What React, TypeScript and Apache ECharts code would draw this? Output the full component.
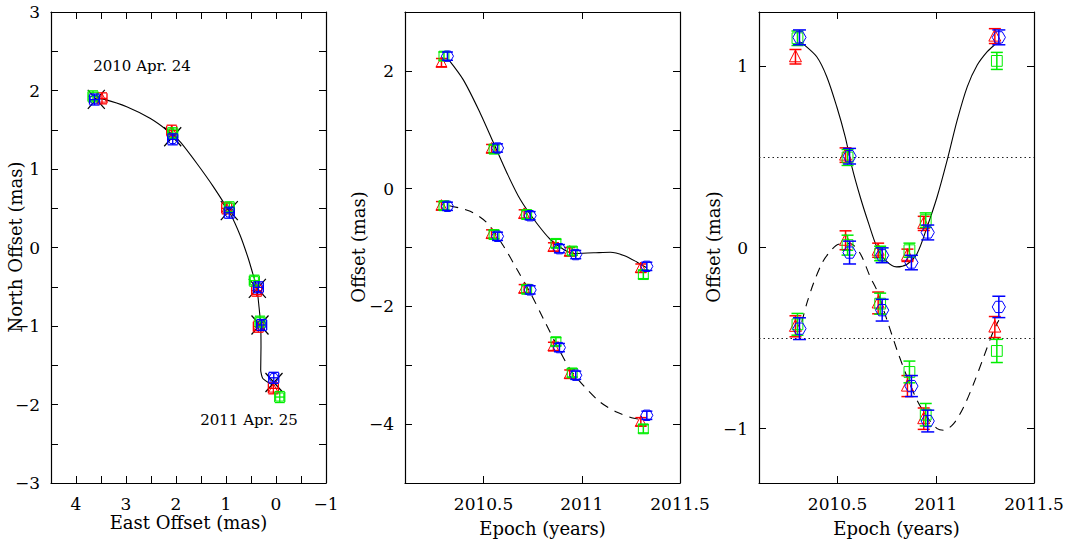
import React, { useEffect, useRef } from 'react';
import * as echarts from 'echarts';

// ---------- data ----------
const EPOCHS = [2010.306, 2010.561, 2010.727, 2010.876, 2010.959, 2011.321];

// Panel 1: sky positions (East, North offsets in mas)
const P1_MODEL_EAST = [3.594, 2.066, 0.934, 0.373, 0.32, 0.04];
const P1_MODEL_NORTH = [1.888, 1.411, 0.469, -0.52, -0.987, -1.72];
const P1_RED_EAST = [3.48, 2.086, 0.986, 0.387, 0.353, 0.053];
const P1_RED_NORTH = [1.9, 1.488, 0.499, -0.55, -1.009, -1.794];
const P1_GREEN_EAST = [3.66, 2.066, 0.934, 0.433, 0.32, -0.075];
const P1_GREEN_NORTH = [1.925, 1.455, 0.512, -0.423, -0.945, -1.905];
const P1_BLUE_EAST = [3.63, 2.066, 0.934, 0.353, 0.287, 0.045];
const P1_BLUE_NORTH = [1.885, 1.378, 0.443, -0.507, -0.987, -1.66];
const P1_ERR_EAST = [0.1, 0.1, 0.1, 0.1, 0.1, 0.1];
const P1_ERR_NORTH = [0.07, 0.07, 0.07, 0.07, 0.07, 0.07];
const P1_CURVE_EAST = [3.594, 3.45, 2.986, 2.52, 2.186, 1.92, 1.586, 1.254, 0.92, 0.72, 0.554, 0.466, 0.386, 0.34, 0.306, 0.3, 0.306, 0.266, 0.154, 0.03];
const P1_CURVE_NORTH = [1.9, 1.89, 1.794, 1.646, 1.497, 1.348, 1.073, 0.775, 0.436, 0.159, -0.14, -0.329, -0.5, -0.754, -0.987, -1.264, -1.561, -1.666, -1.72, -1.76];
const P1_X_TICKS_LABELLED = [4, 3, 2, 1, 0, -1];

// Panel 2: offsets vs epoch
const P2_SOLID_RED = [2.14, 0.68, -0.43, -0.99, -1.07, -1.35];
const P2_SOLID_GREEN = [2.25, 0.67, -0.44, -0.93, -1.06, -1.46];
const P2_SOLID_BLUE = [2.25, 0.69, -0.46, -1.02, -1.12, -1.32];
const P2_DASH_RED = [-0.29, -0.77, -1.7, -2.68, -3.15, -3.96];
const P2_DASH_GREEN = [-0.29, -0.78, -1.71, -2.6, -3.13, -4.08];
const P2_DASH_BLUE = [-0.3, -0.81, -1.72, -2.7, -3.17, -3.85];
const P2_ERR = [0.07, 0.07, 0.07, 0.07, 0.07, 0.07];
const P2_SOLID_CURVE_T = [2010.326, 2010.397, 2010.483, 2010.551, 2010.619, 2010.687, 2010.763, 2010.84, 2010.908, 2010.959, 2011.061, 2011.146, 2011.214, 2011.282, 2011.33];
const P2_SOLID_CURVE_V = [2.175, 1.847, 1.282, 0.775, 0.266, -0.186, -0.554, -0.864, -1.034, -1.102, -1.09, -1.08, -1.136, -1.249, -1.344];
const P2_DASH_CURVE_T = [2010.326, 2010.432, 2010.517, 2010.602, 2010.67, 2010.738, 2010.806, 2010.874, 2010.941, 2011.01, 2011.095, 2011.18, 2011.265, 2011.31];
const P2_DASH_CURVE_V = [-0.29, -0.385, -0.58, -0.98, -1.37, -1.77, -2.22, -2.67, -3.07, -3.35, -3.63, -3.8, -3.9, -3.92];

// Panel 3: residual offsets vs epoch
const P3_SOLID_RED = [1.053, 0.51, -0.015, -0.043, 0.133, 1.167];
const P3_SOLID_GREEN = [1.155, 0.497, -0.033, -0.015, 0.151, 1.03];
const P3_SOLID_BLUE = [1.16, 0.504, -0.043, -0.083, 0.083, 1.16];
const P3_SOLID_ERR_RED = [0.04, 0.04, 0.039, 0.034, 0.039, 0.041];
const P3_SOLID_ERR_GREEN = [0.04, 0.044, 0.04, 0.039, 0.04, 0.047];
const P3_SOLID_ERR_BLUE = [0.041, 0.043, 0.041, 0.04, 0.041, 0.041];
const P3_DASH_RED = [-0.435, 0.04, -0.306, -0.765, -0.945, -0.439];
const P3_DASH_GREEN = [-0.424, 0.013, -0.31, -0.687, -0.923, -0.571];
const P3_DASH_BLUE = [-0.448, -0.028, -0.346, -0.765, -0.958, -0.328];
const P3_DASH_ERR_RED = [0.058, 0.052, 0.06, 0.058, 0.059, 0.058];
const P3_DASH_ERR_GREEN = [0.06, 0.055, 0.058, 0.06, 0.062, 0.064];
const P3_DASH_ERR_BLUE = [0.06, 0.063, 0.06, 0.058, 0.06, 0.059];
const P3_SOLID_CURVE_T = [2010.31, 2010.326, 2010.394, 2010.445, 2010.496, 2010.539, 2010.573, 2010.615, 2010.658, 2010.7, 2010.743, 2010.8, 2010.854, 2010.905, 2010.956, 2011.007, 2011.058, 2011.109, 2011.16, 2011.211, 2011.262, 2011.299];
const P3_SOLID_CURVE_V = [1.135, 1.123, 1.053, 0.943, 0.777, 0.611, 0.445, 0.28, 0.133, 0.003, -0.07, -0.107, -0.092, -0.033, 0.114, 0.28, 0.482, 0.703, 0.887, 1.007, 1.081, 1.118];
const P3_DASH_CURVE_T = [2010.318, 2010.343, 2010.377, 2010.42, 2010.454, 2010.505, 2010.564, 2010.615, 2010.666, 2010.7, 2010.752, 2010.803, 2010.854, 2010.905, 2010.956, 2011.007, 2011.04, 2011.091, 2011.142, 2011.193, 2011.244, 2011.295, 2011.321];
const P3_DASH_CURVE_V = [-0.411, -0.31, -0.199, -0.088, -0.033, 0.018, 0.022, -0.033, -0.162, -0.236, -0.402, -0.567, -0.715, -0.844, -0.936, -1.0, -1.009, -0.972, -0.88, -0.751, -0.604, -0.457, -0.402];
const P3_REFERENCE_LEVELS = [0.5, -0.5];

const EPOCH_TICKS = [2010.5, 2011, 2011.5];
const P3_Y_TICKS = [-1, 0, 1];

const ANNOTATIONS = [
  { text: '2010 Apr. 24', x: 142, y: 66 },
  { text: '2011 Apr. 25', x: 249, y: 420 },
];

// ---------- styling ----------
const FONT = 'DejaVu Serif';
const RED = '#ff0000';
const GREEN = '#00ee00';
const BLUE = '#0000ff';
const GRIDS = [
  { left: 51, top: 12, width: 275, height: 471 },
  { left: 405, top: 12, width: 275, height: 471 },
  { left: 759, top: 12, width: 275, height: 471 },
];

const fmtNum = (v: number) => (v < 0 ? '\u2212' + String(Math.abs(v)) : String(v));

function symbolShape(shape: string, cx: number, cy: number, s: number, color: string) {
  const style = { fill: 'none', stroke: color, lineWidth: 1 };
  if (shape === 'square') {
    return { type: 'rect', shape: { x: cx - s * 0.45, y: cy - s * 0.45, width: s * 0.9, height: s * 0.9 }, style };
  }
  if (shape === 'triangle') {
    return {
      type: 'polygon',
      shape: { points: [[cx, cy - s * 0.55], [cx - s * 0.5, cy + s * 0.42], [cx + s * 0.5, cy + s * 0.42]] },
      style,
    };
  }
  return {
    type: 'polygon',
    shape: {
      points: [
        [cx - s * 0.55, cy], [cx - s * 0.28, cy - s * 0.47], [cx + s * 0.28, cy - s * 0.47],
        [cx + s * 0.55, cy], [cx + s * 0.28, cy + s * 0.47], [cx - s * 0.28, cy + s * 0.47],
      ],
    },
    style,
  };
}

function epochSeries(panel: number, values: number[], errs: number[], color: string, shape: string, dodge: number, size: number, cap: number) {
  return {
    type: 'custom',
    xAxisIndex: panel,
    yAxisIndex: panel,
    z: 5,
    silent: true,
    encode: { x: 0, y: 1 },
    data: EPOCHS.map((t, i) => [t, values[i], errs[i]]),
    renderItem: (_p: any, api: any) => {
      const t = api.value(0), v = api.value(1), e = api.value(2);
      const c = api.coord([t, v]);
      const hi = api.coord([t, v + e]);
      const lo = api.coord([t, v - e]);
      const x = c[0] + dodge;
      const ls = { stroke: color, lineWidth: 1.5 };
      return {
        type: 'group',
        children: [
          { type: 'line', shape: { x1: x, y1: hi[1], x2: x, y2: lo[1] }, style: ls },
          { type: 'line', shape: { x1: x - cap, y1: hi[1], x2: x + cap, y2: hi[1] }, style: ls },
          { type: 'line', shape: { x1: x - cap, y1: lo[1], x2: x + cap, y2: lo[1] }, style: ls },
          symbolShape(shape, x, c[1], size, color),
        ],
      };
    },
  };
}

function skySeries(east: number[], north: number[], color: string, shape: string) {
  return {
    type: 'custom',
    xAxisIndex: 0,
    yAxisIndex: 0,
    z: 5,
    silent: true,
    encode: { x: 0, y: 1 },
    data: east.map((e, i) => [e, north[i], P1_ERR_EAST[i], P1_ERR_NORTH[i]]),
    renderItem: (_p: any, api: any) => {
      const e = api.value(0), n = api.value(1), ee = api.value(2), en = api.value(3);
      const c = api.coord([e, n]);
      const l = api.coord([e + ee, n]);
      const r = api.coord([e - ee, n]);
      const hi = api.coord([e, n + en]);
      const lo = api.coord([e, n - en]);
      const cap = 5;
      const ls = { stroke: color, lineWidth: 1.3 };
      return {
        type: 'group',
        children: [
          { type: 'line', shape: { x1: c[0], y1: hi[1], x2: c[0], y2: lo[1] }, style: ls },
          { type: 'line', shape: { x1: c[0] - cap, y1: hi[1], x2: c[0] + cap, y2: hi[1] }, style: ls },
          { type: 'line', shape: { x1: c[0] - cap, y1: lo[1], x2: c[0] + cap, y2: lo[1] }, style: ls },
          { type: 'line', shape: { x1: l[0], y1: c[1], x2: r[0], y2: c[1] }, style: ls },
          { type: 'line', shape: { x1: l[0], y1: c[1] - cap, x2: l[0], y2: c[1] + cap }, style: ls },
          { type: 'line', shape: { x1: r[0], y1: c[1] - cap, x2: r[0], y2: c[1] + cap }, style: ls },
          symbolShape(shape, c[0], c[1], 9, color),
        ],
      };
    },
  };
}

function modelCrossSeries() {
  return {
    type: 'custom',
    xAxisIndex: 0,
    yAxisIndex: 0,
    z: 4,
    silent: true,
    encode: { x: 0, y: 1 },
    data: P1_MODEL_EAST.map((e, i) => [e, P1_MODEL_NORTH[i]]),
    renderItem: (_p: any, api: any) => {
      const c = api.coord([api.value(0), api.value(1)]);
      const hx = 8.5, hy = 9.5;
      const ls = { stroke: '#000', lineWidth: 1.2 };
      return {
        type: 'group',
        children: [
          { type: 'line', shape: { x1: c[0] - hx, y1: c[1] - hy, x2: c[0] + hx, y2: c[1] + hy }, style: ls },
          { type: 'line', shape: { x1: c[0] + hx, y1: c[1] - hy, x2: c[0] - hx, y2: c[1] + hy }, style: ls },
        ],
      };
    },
  };
}

function curve(panel: number, xs: number[], ys: number[], dashed: boolean, extra: any = {}) {
  return {
    type: 'line',
    xAxisIndex: panel,
    yAxisIndex: panel,
    z: 3,
    silent: true,
    symbol: 'none',
    smooth: 0.3,
    data: xs.map((x, i) => [x, ys[i]]),
    lineStyle: { color: '#000', width: 1.1, type: dashed ? [9, 7] : 'solid' },
    ...extra,
  };
}

const axisLine = { show: true, onZero: false, lineStyle: { color: '#000', width: 1.2 } };
const tickBase = { show: true, inside: true, length: 7, lineStyle: { color: '#000', width: 1 } };
const labelBase = { color: '#000', fontFamily: FONT, fontSize: 17 };

function makeX(panel: number, mirror: boolean) {
  const common: any = {
    type: 'value',
    gridIndex: panel,
    position: mirror ? 'top' : 'bottom',
    axisLine,
    splitLine: { show: false },
  };
  if (panel === 0) {
    return {
      ...common, min: -1, max: 4.5, inverse: true, interval: 0.5,
      axisTick: tickBase,
      axisLabel: mirror ? { show: false } : {
        ...labelBase, margin: 12,
        formatter: (v: number) => (P1_X_TICKS_LABELLED.indexOf(v) >= 0 ? fmtNum(v) : ''),
      },
    };
  }
  return {
    ...common, min: 2010.1, max: 2011.5,
    axisTick: { ...tickBase, customValues: EPOCH_TICKS },
    axisLabel: mirror ? { show: false } : { ...labelBase, margin: 12, customValues: EPOCH_TICKS, formatter: (v: number) => String(v) },
  };
}

function makeY(panel: number, mirror: boolean) {
  const common: any = {
    type: 'value',
    gridIndex: panel,
    position: mirror ? 'right' : 'left',
    axisLine,
    splitLine: { show: false },
  };
  if (panel === 0) {
    return {
      ...common, min: -3, max: 3, interval: 0.5,
      axisTick: tickBase,
      axisLabel: mirror ? { show: false } : { ...labelBase, margin: 11, formatter: (v: number) => (Number.isInteger(v) ? fmtNum(v) : '') },
    };
  }
  if (panel === 1) {
    return {
      ...common, min: -5, max: 3, interval: 1,
      axisTick: tickBase,
      axisLabel: mirror ? { show: false } : { ...labelBase, margin: 11, formatter: (v: number) => (Math.abs(v) % 2 === 0 ? fmtNum(v) : '') },
    };
  }
  return {
    ...common, min: -1.3, max: 1.3,
    axisTick: { ...tickBase, customValues: P3_Y_TICKS },
    axisLabel: mirror ? { show: false } : { ...labelBase, margin: 11, customValues: P3_Y_TICKS, formatter: (v: number) => fmtNum(v) },
  };
}

function titleText(text: string, x: number, y: number, vertical: boolean) {
  return {
    type: 'text',
    x, y,
    rotation: vertical ? Math.PI / 2 : 0,
    silent: true,
    style: { text, fill: '#000', font: `18px "${FONT}"`, textAlign: 'center', textVerticalAlign: 'middle' },
  };
}

export default function App() {
  const ref = useRef<HTMLDivElement>(null);
  useEffect(() => {
    document.body.style.margin = '0';
    if (!ref.current) return;
    const chart = echarts.init(ref.current, null, { renderer: 'svg' });
    const option: any = {
      animation: false,
      backgroundColor: '#fff',
      grid: GRIDS,
      xAxis: [makeX(0, false), makeX(1, false), makeX(2, false), makeX(0, true), makeX(1, true), makeX(2, true)],
      yAxis: [makeY(0, false), makeY(1, false), makeY(2, false), makeY(0, true), makeY(1, true), makeY(2, true)],
      series: [
        // panel 1
        curve(0, P1_CURVE_EAST, P1_CURVE_NORTH, false, { smooth: 0.2 }),
        modelCrossSeries(),
        skySeries(P1_RED_EAST, P1_RED_NORTH, RED, 'triangle'),
        skySeries(P1_GREEN_EAST, P1_GREEN_NORTH, GREEN, 'square'),
        skySeries(P1_BLUE_EAST, P1_BLUE_NORTH, BLUE, 'hexagon'),
        // panel 2
        curve(1, P2_SOLID_CURVE_T, P2_SOLID_CURVE_V, false),
        curve(1, P2_DASH_CURVE_T, P2_DASH_CURVE_V, true),
        epochSeries(1, P2_SOLID_RED, P2_ERR, RED, 'triangle', -4, 11, 5.5),
        epochSeries(1, P2_DASH_RED, P2_ERR, RED, 'triangle', -4, 11, 5.5),
        epochSeries(1, P2_SOLID_GREEN, P2_ERR, GREEN, 'square', -1.5, 11, 5.5),
        epochSeries(1, P2_DASH_GREEN, P2_ERR, GREEN, 'square', -1.5, 11, 5.5),
        epochSeries(1, P2_SOLID_BLUE, P2_ERR, BLUE, 'hexagon', 2, 11, 5.5),
        epochSeries(1, P2_DASH_BLUE, P2_ERR, BLUE, 'hexagon', 2, 11, 5.5),
        // panel 3
        curve(2, P3_SOLID_CURVE_T, P3_SOLID_CURVE_V, false, {
          markLine: {
            silent: true,
            symbol: ['none', 'none'],
            label: { show: false },
            lineStyle: { color: '#222', width: 1.2, type: [1.5, 3] },
            data: P3_REFERENCE_LEVELS.map((l) => ({ yAxis: l })),
          },
        }),
        curve(2, P3_DASH_CURVE_T, P3_DASH_CURVE_V, true),
        epochSeries(2, P3_SOLID_RED, P3_SOLID_ERR_RED, RED, 'triangle', -4, 12, 6),
        epochSeries(2, P3_DASH_RED, P3_DASH_ERR_RED, RED, 'triangle', -4, 12, 6),
        epochSeries(2, P3_SOLID_GREEN, P3_SOLID_ERR_GREEN, GREEN, 'square', -2, 12, 6),
        epochSeries(2, P3_DASH_GREEN, P3_DASH_ERR_GREEN, GREEN, 'square', -2, 12, 6),
        epochSeries(2, P3_SOLID_BLUE, P3_SOLID_ERR_BLUE, BLUE, 'hexagon', 0, 12, 6.5),
        epochSeries(2, P3_DASH_BLUE, P3_DASH_ERR_BLUE, BLUE, 'hexagon', 0, 12, 6.5),
      ],
      graphic: [
        titleText('East Offset (mas)', 188.5, 522, false),
        titleText('North Offset (mas)', 15, 247, true),
        titleText('Epoch (years)', 542.5, 528, false),
        titleText('Offset (mas)', 358, 247, true),
        titleText('Epoch (years)', 896.5, 528, false),
        titleText('Offset (mas)', 713, 247, true),
        ...ANNOTATIONS.map((a) => ({
          type: 'text',
          x: a.x,
          y: a.y,
          silent: true,
          style: { text: a.text, fill: '#000', font: `15px "${FONT}"`, textAlign: 'center', textVerticalAlign: 'middle' },
        })),
      ],
    };
    chart.setOption(option);
    return () => chart.dispose();
  }, []);
  return <div ref={ref} style={{ width: 1067, height: 544 }} />;
}
